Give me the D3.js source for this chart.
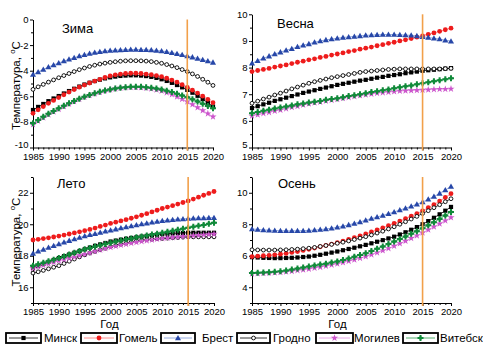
<!DOCTYPE html>
<html>
<head>
<meta charset="utf-8">
<script src="https://cdn.jsdelivr.net/npm/d3@7"></script>
<style>
  body { margin: 0; background: #fff; }
  svg { display: block; }
  text { font-family: "Liberation Sans", Arial, sans-serif; fill: #000; }
</style>
</head>
<body>
<svg id="chart" width="483" height="345"></svg>
<script>
// ---- data: mean seasonal temperature by city, 1985–2020 ----
const years = d3.range(1985, 2021);
const cities = ["Минск", "Гомель", "Брест", "Гродно", "Могилев", "Витебск"];
const seasons = ["Зима", "Весна", "Лето", "Осень"];
const xTickValues = [1985, 1990, 1995, 2000, 2005, 2010, 2015, 2020];
const markerYear = 2015;

const winterTicks = [0, -2, -4, -6, -8, -10];
const springTicks = [10, 9, 8, 7, 6, 5];
const summerTicks = [16, 18, 20, 22];
const autumnTicks = [4, 6, 8, 10];

// Зима
const winterMinsk   = [-7.07,-6.83,-6.60,-6.38,-6.17,-5.98,-5.78,-5.59,-5.41,-5.24,-5.08,-4.94,-4.81,-4.70,-4.60,-4.52,-4.46,-4.41,-4.38,-4.36,-4.36,-4.38,-4.42,-4.48,-4.56,-4.67,-4.80,-4.95,-5.12,-5.30,-5.50,-5.72,-5.96,-6.22,-6.50,-6.80];
const winterGomel   = [-7.33,-7.06,-6.80,-6.55,-6.32,-6.10,-5.88,-5.67,-5.47,-5.29,-5.12,-4.96,-4.81,-4.67,-4.53,-4.41,-4.32,-4.26,-4.22,-4.20,-4.20,-4.22,-4.26,-4.31,-4.38,-4.47,-4.59,-4.73,-4.90,-5.09,-5.30,-5.52,-5.75,-5.99,-6.24,-6.50];
const winterBrest   = [-4.30,-4.10,-3.90,-3.72,-3.55,-3.40,-3.25,-3.11,-2.98,-2.86,-2.75,-2.66,-2.58,-2.52,-2.47,-2.43,-2.40,-2.38,-2.36,-2.35,-2.35,-2.36,-2.37,-2.39,-2.42,-2.46,-2.52,-2.59,-2.67,-2.76,-2.85,-2.94,-3.04,-3.14,-3.25,-3.35];
const winterGrodno  = [-5.46,-5.26,-5.07,-4.89,-4.72,-4.55,-4.38,-4.22,-4.07,-3.92,-3.79,-3.67,-3.57,-3.48,-3.41,-3.35,-3.30,-3.26,-3.23,-3.22,-3.22,-3.23,-3.25,-3.29,-3.35,-3.42,-3.52,-3.63,-3.76,-3.91,-4.07,-4.25,-4.45,-4.67,-4.90,-5.15];
const winterMogilev = [-8.20,-7.93,-7.67,-7.43,-7.21,-7.00,-6.79,-6.59,-6.40,-6.22,-6.06,-5.92,-5.79,-5.67,-5.57,-5.48,-5.41,-5.35,-5.31,-5.29,-5.29,-5.31,-5.35,-5.41,-5.49,-5.58,-5.71,-5.86,-6.03,-6.22,-6.42,-6.64,-6.87,-7.11,-7.35,-7.60];
const winterVitebsk = [-8.11,-7.85,-7.60,-7.37,-7.15,-6.94,-6.74,-6.55,-6.36,-6.19,-6.03,-5.89,-5.76,-5.64,-5.54,-5.46,-5.39,-5.33,-5.29,-5.26,-5.25,-5.26,-5.29,-5.33,-5.39,-5.46,-5.56,-5.67,-5.80,-5.94,-6.08,-6.24,-6.40,-6.58,-6.76,-6.94];

// Весна
const springMinsk   = [6.48,6.55,6.62,6.68,6.75,6.81,6.87,6.93,6.99,7.05,7.10,7.15,7.20,7.25,7.30,7.35,7.39,7.43,7.47,7.51,7.54,7.58,7.62,7.65,7.69,7.72,7.75,7.79,7.82,7.85,7.88,7.90,7.92,7.94,7.96,7.98];
const springGomel   = [7.85,7.89,7.93,7.97,8.02,8.06,8.10,8.15,8.20,8.24,8.29,8.33,8.38,8.42,8.47,8.51,8.55,8.60,8.64,8.69,8.73,8.77,8.82,8.86,8.91,8.95,9.00,9.04,9.09,9.14,9.19,9.25,9.30,9.36,9.42,9.48];
const springBrest   = [8.16,8.26,8.35,8.43,8.51,8.58,8.65,8.71,8.78,8.84,8.89,8.95,9.00,9.04,9.07,9.10,9.13,9.15,9.17,9.19,9.21,9.22,9.23,9.24,9.24,9.24,9.23,9.22,9.21,9.19,9.16,9.13,9.10,9.07,9.03,8.99];
const springGrodno  = [6.66,6.74,6.82,6.89,6.97,7.04,7.12,7.20,7.27,7.34,7.41,7.47,7.52,7.57,7.62,7.66,7.70,7.74,7.78,7.82,7.85,7.87,7.89,7.91,7.93,7.94,7.95,7.95,7.95,7.95,7.95,7.95,7.95,7.95,7.96,7.97];
const springMogilev = [6.19,6.23,6.28,6.32,6.37,6.41,6.46,6.51,6.55,6.60,6.64,6.68,6.71,6.75,6.78,6.81,6.85,6.88,6.92,6.95,6.98,7.01,7.04,7.06,7.08,7.10,7.12,7.13,7.14,7.15,7.16,7.17,7.18,7.19,7.19,7.20];
const springVitebsk = [6.29,6.33,6.38,6.42,6.46,6.50,6.54,6.58,6.62,6.65,6.69,6.72,6.75,6.79,6.82,6.85,6.89,6.93,6.96,7.00,7.04,7.08,7.11,7.15,7.18,7.22,7.26,7.30,7.33,7.37,7.41,7.45,7.49,7.52,7.56,7.60];

// Лето
const summerMinsk   = [17.22,17.35,17.48,17.61,17.73,17.85,17.97,18.08,18.19,18.30,18.41,18.52,18.63,18.72,18.81,18.90,18.96,19.02,19.08,19.13,19.17,19.22,19.26,19.30,19.34,19.38,19.40,19.42,19.44,19.45,19.46,19.46,19.46,19.46,19.46,19.46];
const summerGomel   = [19.00,19.04,19.09,19.14,19.19,19.25,19.31,19.38,19.45,19.52,19.59,19.67,19.76,19.86,19.95,20.05,20.13,20.21,20.29,20.38,20.47,20.57,20.67,20.78,20.89,21.00,21.09,21.18,21.28,21.38,21.48,21.60,21.72,21.84,21.96,22.08];
const summerBrest   = [18.15,18.28,18.40,18.52,18.64,18.75,18.86,18.96,19.06,19.16,19.25,19.33,19.40,19.48,19.55,19.62,19.69,19.76,19.82,19.89,19.95,20.01,20.07,20.12,20.17,20.22,20.26,20.29,20.32,20.34,20.36,20.38,20.39,20.40,20.41,20.42];
const summerGrodno  = [16.90,16.98,17.07,17.17,17.27,17.37,17.51,17.65,17.79,17.93,18.06,18.17,18.28,18.38,18.48,18.58,18.66,18.74,18.81,18.88,18.94,18.98,19.02,19.05,19.08,19.10,19.12,19.14,19.16,19.18,19.20,19.20,19.20,19.20,19.20,19.20];
const summerMogilev = [17.20,17.30,17.40,17.49,17.59,17.68,17.77,17.85,17.93,18.02,18.10,18.19,18.28,18.37,18.46,18.54,18.61,18.68,18.74,18.80,18.86,18.91,18.96,19.01,19.06,19.10,19.13,19.16,19.19,19.22,19.25,19.28,19.30,19.33,19.35,19.38];
const summerVitebsk = [17.37,17.46,17.55,17.65,17.75,17.85,17.96,18.08,18.19,18.30,18.41,18.50,18.59,18.67,18.75,18.83,18.90,18.97,19.04,19.10,19.17,19.23,19.29,19.35,19.40,19.46,19.52,19.59,19.65,19.72,19.78,19.84,19.90,19.96,20.03,20.09];

// Осень
const autumnMinsk   = [5.91,5.89,5.87,5.86,5.85,5.85,5.86,5.87,5.89,5.92,5.95,6.00,6.06,6.13,6.20,6.27,6.35,6.43,6.51,6.60,6.69,6.79,6.89,6.99,7.10,7.21,7.35,7.49,7.65,7.82,8.00,8.20,8.41,8.63,8.86,9.10];
const autumnGomel   = [5.95,5.97,6.00,6.03,6.06,6.10,6.15,6.21,6.27,6.34,6.41,6.49,6.57,6.65,6.74,6.83,6.93,7.04,7.15,7.26,7.38,7.51,7.64,7.77,7.91,8.05,8.20,8.35,8.51,8.68,8.85,9.05,9.25,9.47,9.70,9.94];
const autumnBrest   = [7.70,7.67,7.64,7.62,7.60,7.59,7.58,7.58,7.58,7.59,7.61,7.63,7.66,7.70,7.75,7.81,7.88,7.96,8.05,8.15,8.26,8.36,8.46,8.56,8.67,8.78,8.90,9.02,9.14,9.27,9.41,9.58,9.76,9.96,10.17,10.40];
const autumnGrodno  = [6.38,6.37,6.36,6.36,6.36,6.37,6.38,6.40,6.42,6.45,6.48,6.53,6.59,6.65,6.72,6.79,6.86,6.94,7.03,7.12,7.21,7.32,7.44,7.56,7.70,7.84,8.00,8.16,8.33,8.50,8.68,8.86,9.05,9.24,9.43,9.62];
const autumnMogilev = [4.86,4.87,4.89,4.91,4.93,4.95,4.98,5.02,5.07,5.11,5.16,5.22,5.28,5.35,5.42,5.49,5.57,5.66,5.75,5.85,5.95,6.07,6.20,6.33,6.47,6.62,6.78,6.94,7.11,7.28,7.46,7.65,7.84,8.03,8.23,8.43];
const autumnVitebsk = [4.91,4.92,4.94,4.96,4.98,5.01,5.06,5.12,5.19,5.25,5.32,5.38,5.44,5.50,5.57,5.64,5.73,5.83,5.94,6.05,6.16,6.30,6.44,6.59,6.74,6.90,7.06,7.22,7.39,7.56,7.74,7.93,8.13,8.34,8.56,8.78];

// ---- series styling ----
const cityStyle = {
  "Минск":   { color: "#000000", line: "#000000", symbol: "square" },
  "Гомель":  { color: "#ee1c1c", line: "#ff7070", symbol: "circle" },
  "Брест":   { color: "#2747a8", line: "#7a95d8", symbol: "triangle" },
  "Гродно":  { color: "#000000", line: "#000000", symbol: "open" },
  "Могилев": { color: "#cc55cc", line: "#e090e0", symbol: "star" },
  "Витебск": { color: "#118a3a", line: "#2a9a4a", symbol: "plus" }
};

// ---- panel layout ----
const panels = [
  { name: seasons[0], domain: [-10, 0], ticks: winterTicks, minor: 1,   x0: 33,  x1: 213, y0: 19.5, y1: 147.5, ylabel: true,  xlabel: false,
    series: [winterMinsk, winterGomel, winterBrest, winterGrodno, winterMogilev, winterVitebsk], title: [62, 33] },
  { name: seasons[1], domain: [5, 10],  ticks: springTicks, minor: 0.5, x0: 252, x1: 451, y0: 14.3, y1: 147.5, ylabel: false, xlabel: false,
    series: [springMinsk, springGomel, springBrest, springGrodno, springMogilev, springVitebsk], title: [277, 28] },
  { name: seasons[2], domain: [15, 23], ticks: summerTicks, minor: 1,   x0: 33,  x1: 214, y0: 177,  y1: 303,   ylabel: true,  xlabel: true,
    series: [summerMinsk, summerGomel, summerBrest, summerGrodno, summerMogilev, summerVitebsk], title: [57, 188] },
  { name: seasons[3], domain: [3, 11],  ticks: autumnTicks, minor: 1,   x0: 252, x1: 451, y0: 177,  y1: 303,   ylabel: false, xlabel: true,
    series: [autumnMinsk, autumnGomel, autumnBrest, autumnGrodno, autumnMogilev, autumnVitebsk], title: [278, 188] }
];

const svg = d3.select("#chart");

function drawMarker(g, kind, color) {
  switch (kind) {
    case "square":
      g.append("rect").attr("x", -2.1).attr("y", -2.1).attr("width", 4.2).attr("height", 4.2).attr("fill", color);
      break;
    case "circle":
      g.append("circle").attr("r", 2.4).attr("fill", color);
      break;
    case "triangle":
      g.append("path").attr("d", d3.symbol(d3.symbolTriangle, 16)()).attr("fill", color).attr("transform", "translate(0,0.5)");
      break;
    case "open":
      g.append("circle").attr("r", 1.9).attr("fill", "#fff").attr("stroke", color).attr("stroke-width", 0.9);
      break;
    case "star":
      g.append("path").attr("d", d3.symbol(d3.symbolStar, 16)()).attr("fill", color);
      break;
    case "plus":
      g.append("path").attr("d", d3.symbol(d3.symbolCross, 20)()).attr("fill", color);
      g.append("circle").attr("r", 1.8).attr("fill", color);
      break;
  }
}

panels.forEach(p => {
  const x = d3.scaleLinear().domain([1985, 2020]).range([p.x0, p.x1]);
  const y = d3.scaleLinear().domain(p.domain).range([p.y1, p.y0]);
  const g = svg.append("g");

  // minor ticks
  const yMinor = d3.range(p.domain[0], p.domain[1] + 1e-9, p.minor).filter(v => !p.ticks.includes(v));
  g.append("g").attr("transform", `translate(${p.x0},0)`)
    .call(d3.axisLeft(y).tickValues(yMinor).tickSize(2).tickFormat(""))
    .call(a => a.select(".domain").remove());
  g.append("g").attr("transform", `translate(0,${p.y1})`)
    .call(d3.axisBottom(x).tickValues(years.filter(v => !xTickValues.includes(v))).tickSize(2).tickFormat(""))
    .call(a => a.select(".domain").remove());

  // major axes
  const ya = g.append("g").attr("transform", `translate(${p.x0},0)`)
    .call(d3.axisLeft(y).tickValues(p.ticks).tickSize(3).tickSizeOuter(0).tickPadding(1.5).tickFormat(d3.format("d")));
  const xa = g.append("g").attr("transform", `translate(0,${p.y1})`)
    .call(d3.axisBottom(x).tickValues(xTickValues).tickSize(3).tickSizeOuter(0).tickPadding(2.5).tickFormat(d3.format("d")));
  [ya, xa].forEach(a => {
    a.selectAll("text").style("font-size", "9.5px").style("font-family", "'Liberation Sans', Arial, sans-serif").attr("fill", "#000");
    a.selectAll("line").attr("stroke", "#000");
    a.select(".domain").attr("stroke", "#000");
  });
  ya.selectAll("text").text(d => d < 0 ? "-" + Math.abs(d) : d);
  // lowest y label sits just above the year labels
  ya.selectAll("text").filter(d => d === p.domain[0]).attr("dy", "0.05em");

  // series
  const line = d3.line().x((d, i) => x(years[i])).y(d => y(d));
  p.series.forEach((vals, ci) => {
    const st = cityStyle[cities[ci]];
    g.append("path").datum(vals).attr("d", line).attr("fill", "none").attr("stroke", st.line).attr("stroke-width", 0.8);
  });
  p.series.forEach((vals, ci) => {
    const st = cityStyle[cities[ci]];
    vals.forEach((v, i) => {
      const m = g.append("g").attr("transform", `translate(${x(years[i])},${y(v)})`);
      drawMarker(m, st.symbol, st.color);
    });
  });

  // 2015 reference line
  g.append("line").attr("x1", x(markerYear)).attr("x2", x(markerYear))
    .attr("y1", p.y0).attr("y2", p.y1 + 3)
    .attr("stroke", "#f2a04a").attr("stroke-width", 1.6);

  // season title
  g.append("text").attr("x", p.title[0]).attr("y", p.title[1]).style("font-size", "13px").text(p.name);

  if (p.ylabel) {
    const cy = (p.y0 + p.y1) / 2 + 2;
    const t = g.append("text").attr("transform", `translate(20,${cy}) rotate(-90)`)
      .attr("text-anchor", "middle").style("font-size", "11.5px");
    t.append("tspan").text("Температура, ");
    t.append("tspan").attr("dy", -5).style("font-size", "8px").text("o");
    t.append("tspan").attr("dy", 5).text("C");
  }
  if (p.xlabel) {
    g.append("text").attr("x", (p.x0 + p.x1) / 2 - 14).attr("y", 328)
      .attr("text-anchor", "middle").style("font-size", "11.5px").text("Год");
  }
});

// ---- legend ----
const legendPos = [
  { bx: 6,   bw: 35, tx: 44 },
  { bx: 81,  bw: 36, tx: 119 },
  { bx: 161, bw: 34, tx: 202 },
  { bx: 237, bw: 33, tx: 273 },
  { bx: 316, bw: 37, tx: 354 },
  { bx: 403, bw: 35, tx: 440 }
];
const ly = 338;
cities.forEach((c, i) => {
  const st = cityStyle[c];
  const lp = legendPos[i];
  const g = svg.append("g");
  g.append("rect").attr("x", lp.bx).attr("y", ly - 5).attr("width", lp.bw).attr("height", 10)
    .attr("fill", "#fff").attr("stroke", "#000").attr("stroke-width", 1.8);
  g.append("line").attr("x1", lp.bx + 3).attr("x2", lp.bx + lp.bw - 3).attr("y1", ly).attr("y2", ly)
    .attr("stroke", st.line).attr("stroke-width", 0.8);
  drawMarker(g.append("g").attr("transform", `translate(${lp.bx + lp.bw / 2},${ly})`), st.symbol, st.color);
  g.append("text").attr("x", lp.tx).attr("y", ly + 4).style("font-size", "11.5px").text(c);
});
</script>
</body>
</html>
